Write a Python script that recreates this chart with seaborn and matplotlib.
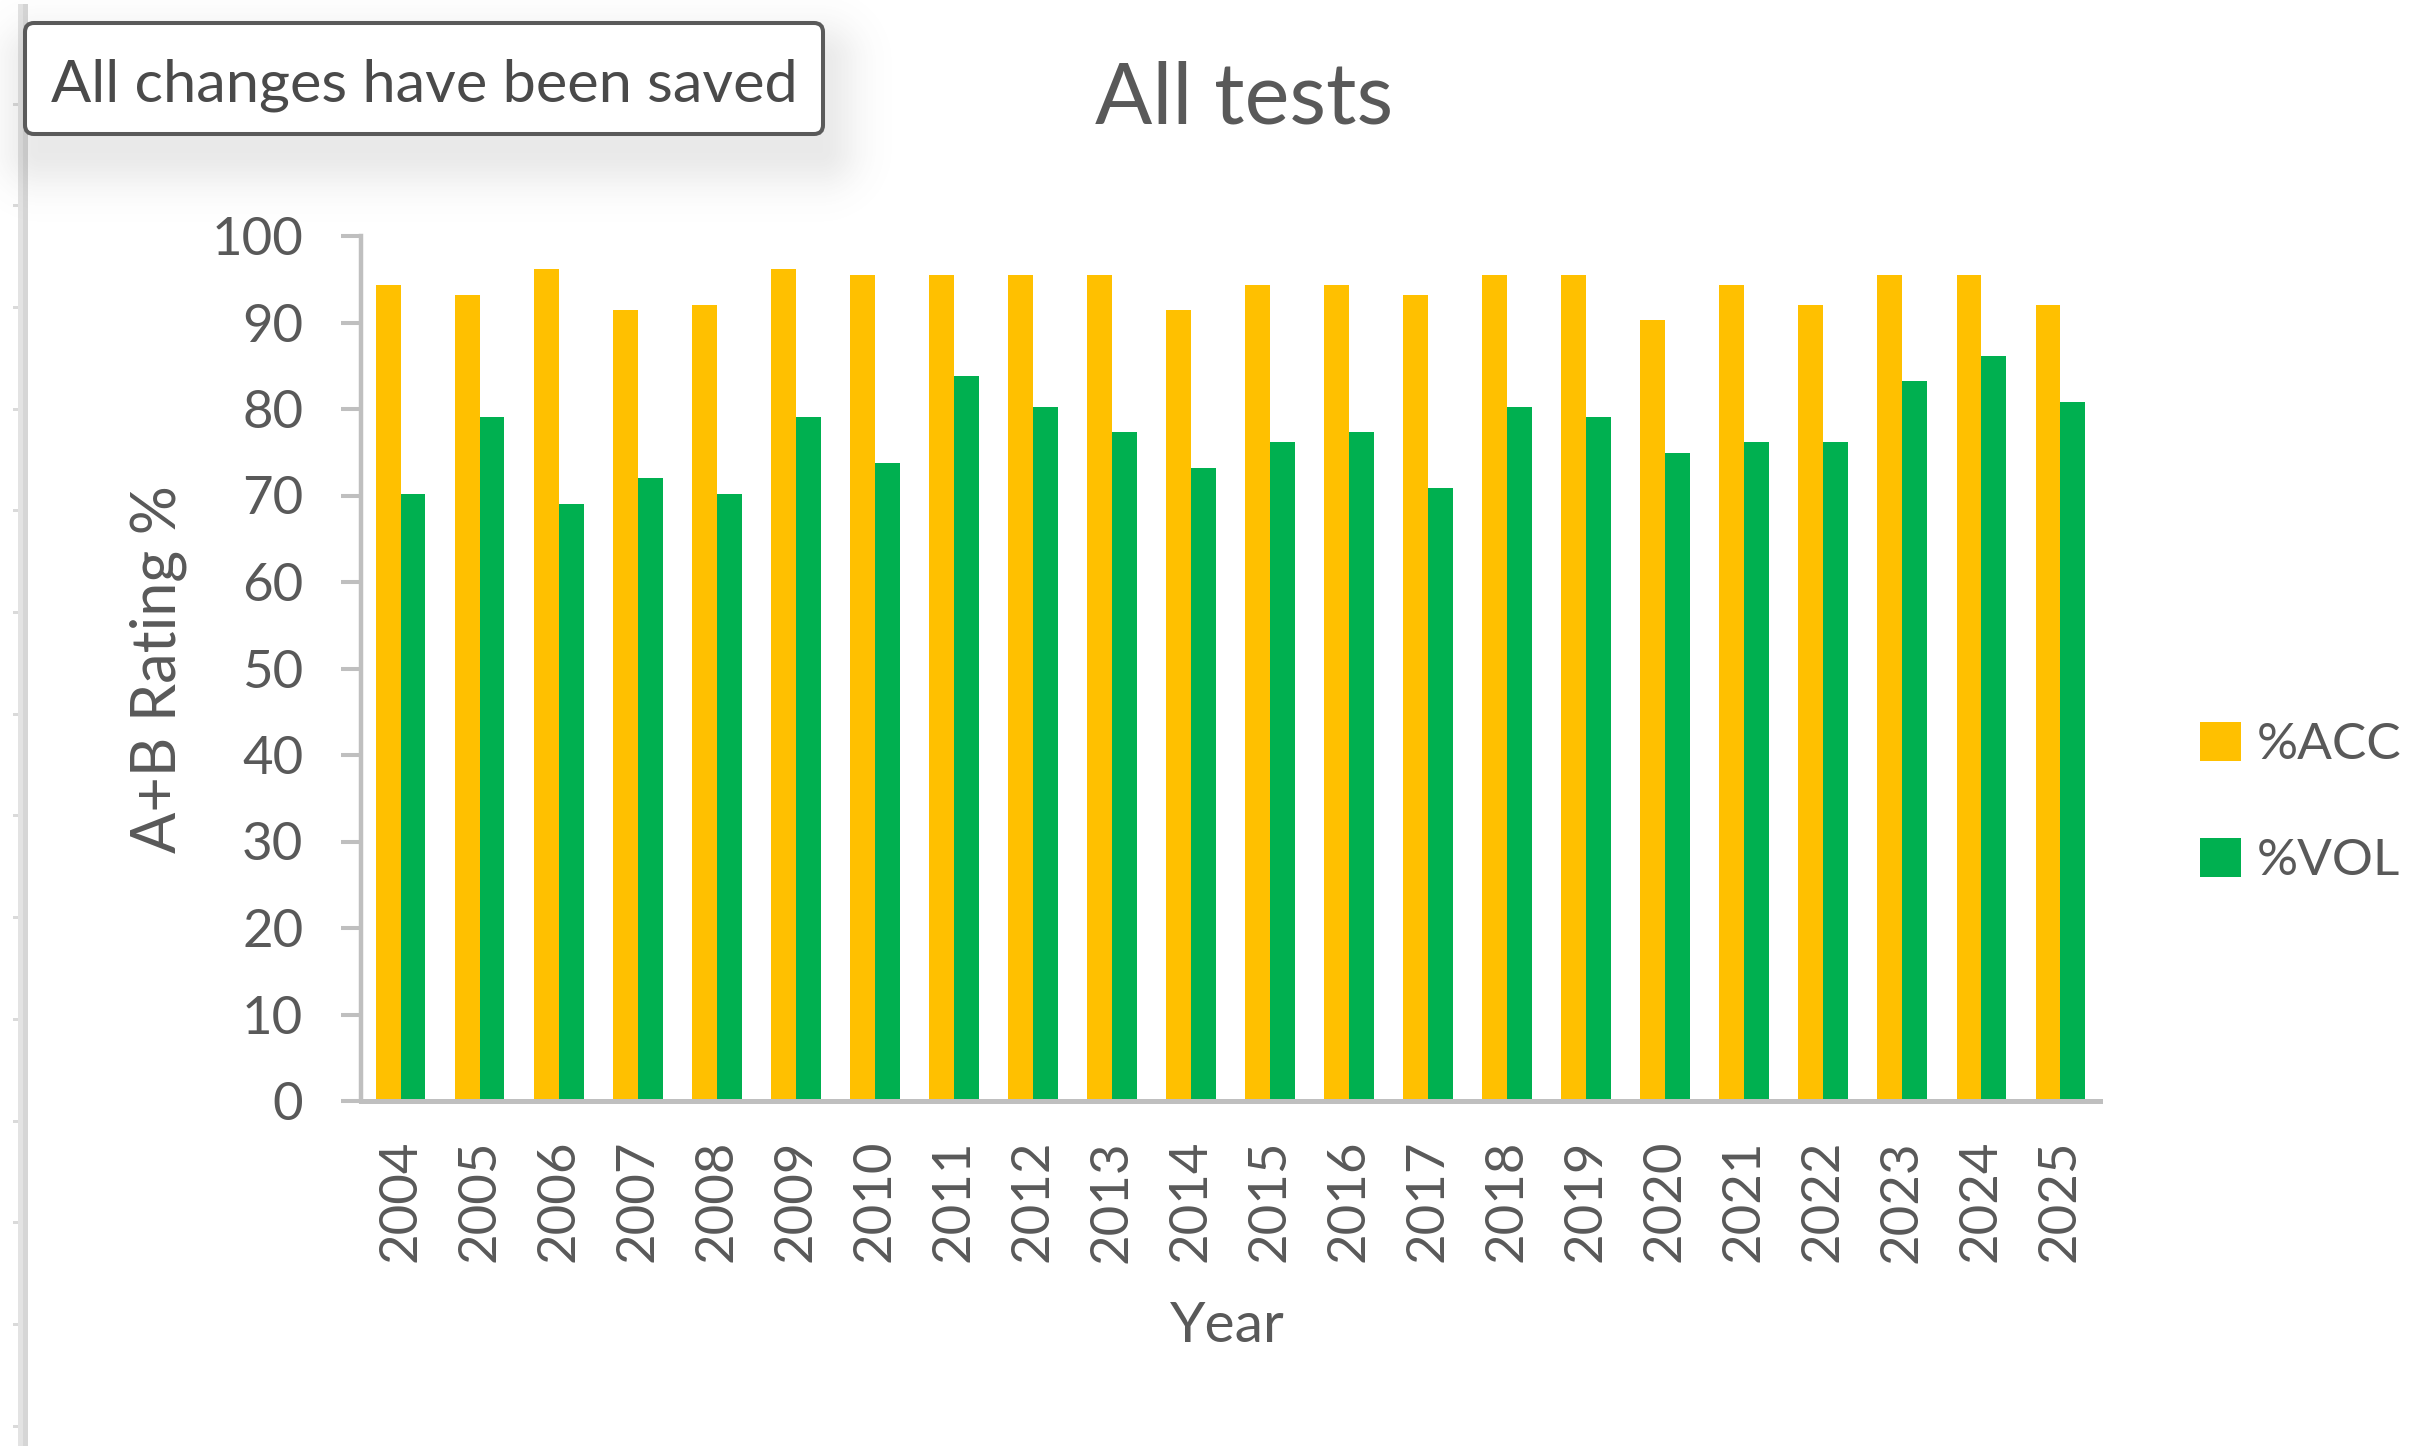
import numpy as np
import pandas as pd
import matplotlib
matplotlib.use("Agg")
import matplotlib.pyplot as plt
from matplotlib.patches import FancyBboxPatch, Rectangle
import seaborn as sns

# ---------------- data ----------------
years = [str(y) for y in range(2004, 2026)]
acc = [94.3, 93.2, 96.2, 91.4, 92.0, 96.2, 95.5, 95.5, 95.5, 95.5, 91.4,
       94.3, 94.3, 93.2, 95.5, 95.5, 90.3, 94.3, 92.0, 95.5, 95.5, 92.0]
vol = [70.2, 79.1, 69.0, 72.0, 70.2, 79.1, 73.8, 83.8, 80.2, 77.3, 73.2,
       76.2, 77.3, 70.9, 80.2, 79.1, 74.9, 76.2, 76.2, 83.2, 86.1, 80.8]
series_names = ["%ACC", "%VOL"]
series_colors = ["#FFC000", "#00B050"]
y_ticks = list(range(0, 101, 10))

df = pd.DataFrame({
    "Year": years * 2,
    "Value": acc + vol,
    "Series": [series_names[0]] * len(years) + [series_names[1]] * len(years),
})

# ---------------- style ----------------
sns.set_theme(style="white")
plt.rcParams["font.family"] = ["Lato", "DejaVu Sans"]
TXT = "#595959"
AXC = "#BFBFBF"

W, H = 2435, 1446
fig = plt.figure(figsize=(W / 100, H / 100), dpi=100)
fig.patch.set_facecolor("white")

ax_l, ax_r, ax_t, ax_b = 361, 2100, 236, 1101
ax = fig.add_axes([ax_l / W, 1 - ax_b / H, (ax_r - ax_l) / W, (ax_b - ax_t) / H])

sns.barplot(data=df, x="Year", y="Value", hue="Series", order=years,
            hue_order=series_names, palette=series_colors, saturation=1,
            width=0.63, gap=0, linewidth=0, ax=ax)

ax.set_xlim(-0.5, len(years) - 0.5)
ax.set_ylim(0, 100)
ax.set_yticks(y_ticks)
for s in ["top", "right"]:
    ax.spines[s].set_visible(False)
ax.spines["left"].set_color(AXC)
ax.spines["left"].set_linewidth(3.2)
ax.spines["bottom"].set_color(AXC)
ax.spines["bottom"].set_linewidth(3.6)

ax.tick_params(axis="y", labelsize=38, labelcolor=TXT, color=AXC,
               length=14.5, width=2.9, pad=27, left=True, direction="out")
ax.tick_params(axis="x", labelsize=38, labelcolor=TXT, length=0, pad=28,
               labelrotation=90)

ax.set_title("All tests", fontsize=61, color=TXT,
             x=(1244 - ax_l) / (ax_r - ax_l), y=(ax_b - 132) / (ax_b - ax_t),
             va="baseline")
ax.set_ylabel("A+B Rating %", fontsize=44, color=TXT, va="center")
ax.yaxis.set_label_coords(158 / W, 1 - 669 / H, transform=fig.transFigure)
ax.set_xlabel("Year", fontsize=41, color=TXT, va="center")
ax.xaxis.set_label_coords(1227 / W, 1 - 1327 / H, transform=fig.transFigure)

handles, labels = ax.get_legend_handles_labels()
ax.legend(handles, labels, loc="center left",
          bbox_to_anchor=(2200 / W, 1 - 803 / H), bbox_transform=fig.transFigure,
          frameon=False, borderpad=0, borderaxespad=0, fontsize=37,
          handlelength=0.8, handleheight=0.8, handletextpad=0.3,
          labelspacing=1.35, labelcolor=TXT)

# ---------------- decorative overlay (pixel coordinates) ----------------
ov = fig.add_axes([0, 0, 1, 1], zorder=5)
ov.set_axis_off()
ov.patch.set_alpha(0)

# left strip
ov.add_patch(Rectangle((18, 4), 5, H, color="#e3e3e3", lw=0))
ov.add_patch(Rectangle((23, 4), 5, H, color="#d6d6d6", lw=0))
for ty in np.arange(104, H, 101.7):
    ov.add_patch(Rectangle((13, ty - 1.5), 5, 3, color="#dadada", lw=0))

# shadow under notice box
sx0, sx1, sy0, sy1 = 0, 960, 0, 270
gx, gy = np.meshgrid(np.arange(sx0, sx1), np.arange(sy0, sy1))
rx0, rx1, ry0, ry1 = 40, 820, 60, 150
dx = np.maximum(np.maximum(rx0 - gx, gx - rx1), 0)
dy = np.maximum(np.maximum(ry0 - gy, gy - ry1), 0)
d = np.sqrt(dx ** 2 + dy ** 2)
alpha = 0.13 * np.exp(-(d / 38.0) ** 2)
img = np.zeros((sy1 - sy0, sx1 - sx0, 4))
img[..., :3] = 0.35
img[..., 3] = alpha
ov.imshow(img, extent=(sx0, sx1, sy1, sy0), origin="upper", zorder=1,
          interpolation="bilinear", aspect="auto")
ov.set_xlim(0, W)
ov.set_ylim(H, 0)

box = FancyBboxPatch((25, 23), 798, 111, boxstyle="round,pad=0,rounding_size=9",
                     fc="white", ec="#5a5a5a", lw=2.9, zorder=2)
ov.add_patch(box)
ov.text(424, 102, "All changes have been saved", fontsize=42.8, color="#4a4a4a",
        ha="center", va="baseline", zorder=3)

fig.savefig("out.png", dpi=100, facecolor="white")
